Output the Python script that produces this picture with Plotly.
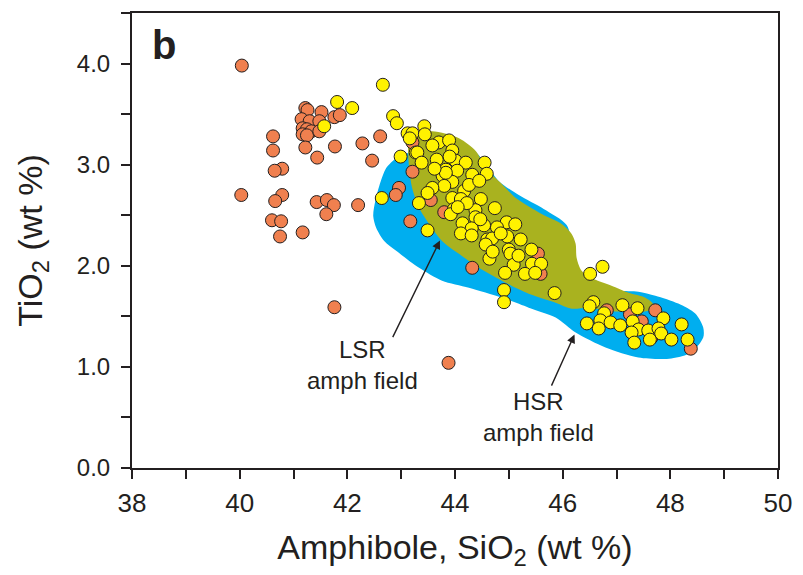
import plotly.graph_objects as go

# LSR-type amphibole analyses (orange)
orange_sio2 = [40.04, 41.22, 41.26, 41.52, 41.15, 41.30, 41.48, 41.76, 41.86, 41.17,
               41.25, 41.33, 41.17, 41.25, 41.48, 40.62, 41.22, 41.77, 42.28, 42.61,
               40.62, 41.44, 42.46, 40.79, 40.65, 43.21, 42.96, 42.90, 40.03, 40.79,
               40.66, 41.43, 41.62, 41.75, 41.61, 42.20, 40.60, 40.77, 41.17, 40.75,
               41.76, 43.88, 44.32, 43.17, 43.55, 43.80, 43.21, 45.59, 45.54, 46.82,
               47.25, 47.47, 47.72, 47.65, 48.38]
orange_tio2 = [3.98, 3.56, 3.54, 3.52, 3.45, 3.43, 3.43, 3.47, 3.49, 3.36,
               3.35, 3.33, 3.30, 3.29, 3.33, 3.28, 3.17, 3.18, 3.21, 3.28,
               3.14, 3.07, 3.04, 2.96, 2.94, 2.93, 2.77, 2.70, 2.70, 2.70,
               2.64, 2.63, 2.65, 2.60, 2.51, 2.60, 2.45, 2.44, 2.33, 2.29,
               1.59, 1.04, 1.98, 2.44, 2.65, 2.53, 3.22, 1.92, 2.12, 1.56,
               1.52, 1.45, 1.56, 1.29, 1.18]

# HSR-type amphibole analyses (yellow)
yellow_sio2 = [42.66, 41.81, 42.09, 41.57, 42.85, 42.92, 43.12, 43.21, 43.16, 42.99,
               43.27, 42.64, 43.49, 43.33, 43.43, 43.44, 43.70, 43.89, 43.58, 43.95,
               43.30, 43.38, 44.01, 44.20, 44.55, 44.59, 43.83, 44.04, 44.32, 43.77,
               43.95, 43.80, 44.17, 44.26, 43.58, 43.49, 44.48, 43.95, 44.11, 44.74,
               43.98, 44.38, 43.92, 44.38, 44.96, 45.12, 44.78, 44.54, 44.14, 44.31,
               44.11, 44.31, 44.97, 45.22, 44.60, 44.69, 44.57, 45.42, 45.00, 45.03,
               44.64, 45.43, 45.60, 45.09, 44.93, 45.30, 45.49, 44.91, 44.91, 45.85,
               46.51, 46.74, 46.57, 46.50, 46.77, 46.70, 46.45, 46.67, 46.89, 47.07,
               47.11, 47.39, 47.30, 47.41, 47.28, 47.87, 47.59, 47.78, 47.83, 47.33,
               47.62, 48.02, 48.21, 48.32, 43.83, 43.66, 43.90, 44.22, 44.45, 44.05,
               44.85, 44.47, 45.18, 43.62, 44.70]
yellow_tio2 = [3.79, 3.62, 3.56, 3.38, 3.48, 3.41, 3.31, 3.31, 3.26, 3.08,
               3.12, 2.67, 2.35, 2.62, 3.38, 3.30, 3.22, 3.24, 3.19, 3.14,
               3.12, 3.02, 3.04, 3.02, 3.02, 2.91, 2.95, 2.94, 2.90, 2.89,
               2.83, 2.79, 2.74, 2.80, 2.77, 2.72, 2.66, 2.67, 2.66, 2.57,
               2.56, 2.55, 2.51, 2.48, 2.43, 2.41, 2.38, 2.40, 2.42, 2.37,
               2.32, 2.30, 2.29, 2.26, 2.26, 2.27, 2.21, 2.16, 2.16, 2.12,
               2.07, 2.02, 2.02, 2.01, 1.93, 1.92, 1.93, 1.76, 1.64, 1.73,
               1.92, 1.99, 1.64, 1.60, 1.53, 1.46, 1.43, 1.38, 1.44, 1.41,
               1.61, 1.58, 1.45, 1.37, 1.34, 1.48, 1.36, 1.38, 1.33, 1.24,
               1.27, 1.27, 1.42, 1.27, 2.92, 3.05, 3.08, 2.62, 2.84, 2.58,
               2.32, 2.46, 2.10, 2.96, 2.14]

# HSR amphibole field outline (blue)
hsr_field_sio2 = [43.185, 42.907, 42.722, 42.593, 42.519, 42.481, 42.537, 42.685, 42.907, 43.333,
                  43.759, 44.259, 44.870, 45.370, 45.870, 46.241, 46.796, 47.407, 48.019, 48.389,
                  48.611, 48.611, 48.463, 48.148, 47.722, 47.407, 47.037, 46.667, 46.389, 46.185,
                  46.074, 45.648, 45.185, 44.815, 44.537, 44.259, 43.704, 43.333]
hsr_field_tio2 = [3.133, 3.064, 2.966, 2.788, 2.640, 2.493, 2.374, 2.246, 2.148, 1.980,
                  1.852, 1.783, 1.685, 1.586, 1.488, 1.340, 1.192, 1.094, 1.084, 1.143,
                  1.291, 1.389, 1.527, 1.626, 1.704, 1.744, 1.754, 1.773, 1.872, 2.197,
                  2.404, 2.562, 2.700, 2.837, 3.034, 3.182, 3.251, 3.212]

# LSR amphibole field outline (olive)
lsr_field_sio2 = [43.148, 43.574, 44.074, 44.389, 44.574, 44.870, 45.130, 45.611, 45.981, 46.167,
                  46.241, 46.259, 46.352, 46.611, 46.907, 47.222, 47.537, 47.685, 47.593, 47.037,
                  46.481, 46.167, 45.870, 45.370, 44.870, 44.444, 44.074, 43.759, 43.519, 43.333,
                  43.204, 43.148, 43.130]
lsr_field_tio2 = [3.300, 3.330, 3.261, 3.133, 2.966, 2.808, 2.670, 2.512, 2.414, 2.315,
                  2.217, 2.079, 1.951, 1.862, 1.803, 1.734, 1.685, 1.616, 1.557, 1.547,
                  1.586, 1.576, 1.635, 1.724, 1.852, 1.980, 2.118, 2.246, 2.414, 2.571,
                  2.768, 2.966, 3.133]

x_ticks = list(range(38, 51))
x_labels = [str(v) if v % 2 == 0 else "" for v in x_ticks]
y_ticks = [i * 0.5 for i in range(10)]
y_labels = [f"{v:.1f}" if abs(v - round(v)) < 1e-9 and v < 4.5 else "" for v in y_ticks]

DARK = "#231f20"
FONT = "Liberation Sans, Arial, sans-serif"

fig = go.Figure()
fig.add_trace(go.Scatter(x=hsr_field_sio2 + [hsr_field_sio2[0]], y=hsr_field_tio2 + [hsr_field_tio2[0]],
                         mode="lines", fill="toself", fillcolor="#00aeef",
                         line=dict(color="#00aeef", width=0, shape="spline", smoothing=0.8),
                         hoverinfo="skip", showlegend=False))
fig.add_trace(go.Scatter(x=lsr_field_sio2 + [lsr_field_sio2[0]], y=lsr_field_tio2 + [lsr_field_tio2[0]],
                         mode="lines", fill="toself", fillcolor="#a9b21f",
                         line=dict(color="#a9b21f", width=0, shape="spline", smoothing=0.8),
                         hoverinfo="skip", showlegend=False))
fig.add_trace(go.Scatter(x=orange_sio2, y=orange_tio2, mode="markers",
                         marker=dict(size=13, color="#f0804f", line=dict(color=DARK, width=1)),
                         showlegend=False))
fig.add_trace(go.Scatter(x=yellow_sio2, y=yellow_tio2, mode="markers",
                         marker=dict(size=13, color="#fff200", line=dict(color=DARK, width=1)),
                         showlegend=False))

# labels and arrows
fig.add_annotation(x=42.28, y=1.02, text="LSR<br>amph field", showarrow=False,
                   font=dict(family=FONT, size=24, color=DARK), align="center")
fig.add_annotation(x=45.56, y=0.50, text="HSR<br>amph field", showarrow=False,
                   font=dict(family=FONT, size=24, color=DARK), align="center")
fig.add_annotation(x=43.72, y=2.25, ax=42.83, ay=1.28, axref="x", ayref="y", text="",
                   showarrow=True, arrowhead=2, arrowsize=1.2, arrowwidth=1.4, arrowcolor=DARK)
fig.add_annotation(x=46.22, y=1.32, ax=45.78, ay=0.80, axref="x", ayref="y", text="",
                   showarrow=True, arrowhead=2, arrowsize=1.2, arrowwidth=1.4, arrowcolor=DARK)
fig.add_annotation(x=38.33, y=4.18, text="<b>b</b>", showarrow=False, xanchor="left",
                   yanchor="middle", font=dict(family=FONT, size=40, color=DARK))

fig.update_xaxes(range=[38, 50], tickvals=x_ticks, ticktext=x_labels, ticks="outside",
                 ticklen=9, tickwidth=2, tickcolor=DARK, showline=True, linewidth=2,
                 linecolor=DARK, mirror=True, showgrid=False, zeroline=False,
                 ticklabelstandoff=2,
                 tickfont=dict(family=FONT, size=26, color=DARK),
                 title=dict(text="Amphibole, SiO<sub>2</sub> (wt %)",
                            font=dict(family=FONT, size=34, color=DARK), standoff=18))
fig.update_yaxes(range=[0, 4.5], tickvals=y_ticks, ticktext=y_labels, ticks="outside",
                 ticklen=9, tickwidth=2, tickcolor=DARK, showline=True, linewidth=2,
                 linecolor=DARK, mirror=True, showgrid=False, zeroline=False,
                 ticklabelstandoff=6,
                 tickfont=dict(family=FONT, size=24, color=DARK),
                 title=dict(text="TiO<sub>2</sub> (wt %)",
                            font=dict(family=FONT, size=34, color=DARK), standoff=24))

fig.update_layout(width=803, height=575, margin=dict(l=132, r=23, t=11, b=107),
                  plot_bgcolor="white", paper_bgcolor="white", showlegend=False)

fig.write_html("out.html")
